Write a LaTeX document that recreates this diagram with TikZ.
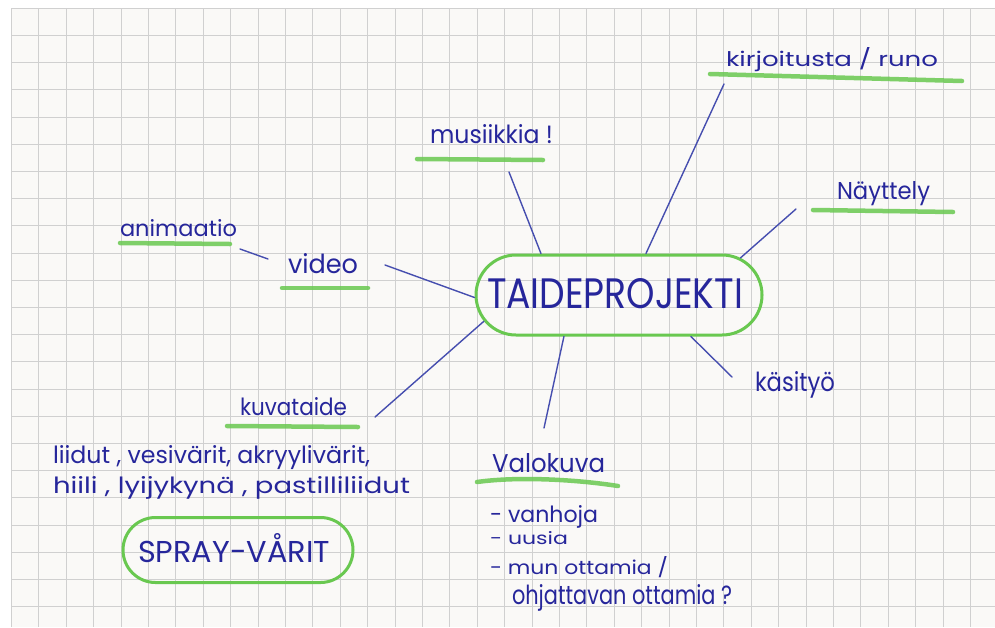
\documentclass[tikz,border=0pt]{standalone}
\usepackage{fontspec}
\setmainfont{Poppins}
\usetikzlibrary{shapes.misc,calc}
\definecolor{ink}{RGB}{38,38,155}
\definecolor{pen}{RGB}{70,78,175}
\definecolor{hl}{RGB}{105,200,80}
\definecolor{gridc}{RGB}{208,208,208}
\definecolor{paper}{RGB}{250,249,247}
\newcommand{\hwtext}[3]{\resizebox{#1}{#2}{#3}}
\begin{document}
\begin{tikzpicture}[x=1pt,y=-1pt,
  lbl/.style={inner sep=0pt, outer sep=0pt, text=ink, anchor=base west},
  conn/.style={draw=pen, line width=1.4pt, line cap=round},
  uline/.style={draw=hl, line width=4.5pt, line cap=round, opacity=0.85},
  oval/.style={rounded rectangle, draw=hl, line width=3pt, inner sep=0pt}]
\useasboundingbox (0,0) rectangle (995,627);
\fill[white] (0,0) rectangle (995,627);
\fill[paper] (11,8) rectangle (995,627);
\foreach \k in {0,...,35} \draw[gridc, line width=0.9pt] ({11.5+27.4*\k},8) -- ({11.5+27.4*\k},627);
\foreach \k in {0,...,22} \draw[gridc, line width=0.9pt] (11,{8.3+27.2*\k}) -- (995,{8.3+27.2*\k});

% underlines
\draw[uline] (710,74) -- (962,81);
\draw[uline] (417,159) -- (543,160);
\draw[uline] (813,210) -- (953,212);
\draw[uline] (120,243) -- (230,244);
\draw[uline] (282,288) -- (368,288);
\draw[uline] (227,426) -- (358,427);
\draw[uline] (477,482) .. controls (520,476) and (580,480) .. (618,486);

% ovals
\node[oval, minimum width=286pt, minimum height=80pt] (center) at (619,295) {};
\node[oval, minimum width=230pt, minimum height=65pt] (sprayoval) at (238,550) {};

% texts
\node[lbl] (taide) at (487,308) {\resizebox{256pt}{30pt}{TAIDEPROJEKTI}};
\node[lbl] (spray) at (138,562) {\resizebox{192pt}{29pt}{SPRAY-VÅRIT}};
\node[lbl] (kirj) at (726,66) {\hwtext{212pt}{19pt}{kirjoitusta / runo}};
\node[lbl] (musiikki) at (430,143) {\hwtext{123pt}{19pt}{musiikkia !}};
\node[lbl] (nayttely) at (837,199) {\hwtext{93pt}{18pt}{Näyttely}};
\node[lbl] (animaatio) at (120,236) {\hwtext{117pt}{17pt}{animaatio}};
\node[lbl] (video) at (288,273) {\hwtext{70pt}{20pt}{video}};
\node[lbl] (kasityo) at (755,391) {\hwtext{80pt}{20pt}{käsityö}};
\node[lbl] (kuvataide) at (240,415) {\hwtext{107pt}{18pt}{kuvataide}};
\node[lbl] (mat1) at (53,463) {\hwtext{317pt}{18pt}{liidut , vesivärit, akryylivärit,}};
\node[lbl] (mat2) at (53,493) {\hwtext{357pt}{17pt}{hiili , lyijykynä , pastilliliidut}};
\node[lbl] (valokuva) at (492,472) {\hwtext{113pt}{19pt}{Valokuva}};
\node[lbl] (vk1) at (490,522) {\hwtext{108pt}{17pt}{- vanhoja}};
\node[lbl] (vk2) at (490,544) {\hwtext{78pt}{13pt}{- uusia}};
\node[lbl] (vk3) at (490,574) {\hwtext{178pt}{18pt}{- mun ottamia /}};
\node[lbl] (vk4) at (512,604) {\hwtext{220pt}{20pt}{ohjattavan ottamia ?}};

% connectors
\draw[conn] ($(animaatio.base east)+(3,13)$) -- ($(video.base west)+(-20,-14)$);
\draw[conn] ($(video.base east)+(27,-8)$) -- (center.181);
\draw[conn] ($(musiikki.base west)+(79,29)$) -- (center.152);
\draw[conn] ($(kirj.base west)+(-2,18)$) -- (center.57);
\draw[conn] ($(nayttely.base west)+(-41,10)$) -- (center.17);
\draw[conn] (center.-30) -- ($(kasityo.base west)+(-23,-14)$);
\draw[conn] (center.217) -- ($(valokuva.base west)+(52,-44)$);
\draw[conn] (center.191) -- ($(kuvataide.base east)+(28,2)$);
\end{tikzpicture}
\end{document}
